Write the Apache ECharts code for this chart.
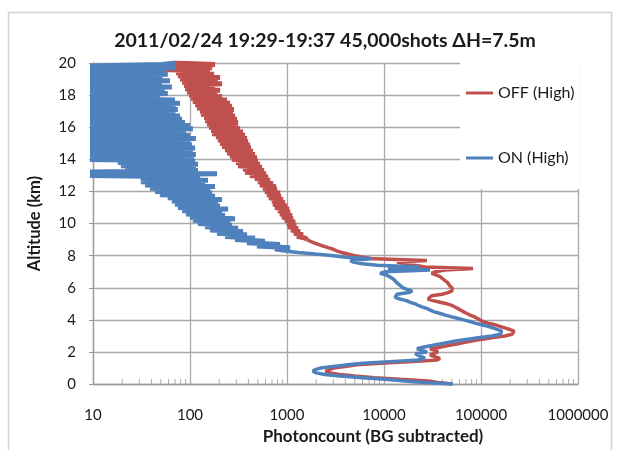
<!DOCTYPE html>
<html><head><meta charset="utf-8">
<script src="https://cdn.jsdelivr.net/npm/echarts@6/dist/echarts.min.js"></script>
<style>html,body{margin:0;padding:0;background:#fff}#c{width:624px;height:450px}</style>
</head><body><div id="c"></div>
<script>
// Altitude grid (km)
const altitudeKm = [
0.0,0.1,0.2,0.3,0.4,0.5,0.6,0.7,0.8,0.9,
1.0,1.1,1.2,1.3,1.4,1.5,1.6,1.7,1.8,1.9,
2.0,2.1,2.2,2.3,2.4,2.5,2.6,2.7,2.8,2.9,
3.0,3.1,3.2,3.3,3.4,3.5,3.6,3.7,3.8,3.9,
4.0,4.1,4.2,4.3,4.4,4.5,4.6,4.7,4.8,4.9,
5.0,5.1,5.2,5.3,5.4,5.5,5.6,5.7,5.8,5.9,
6.0,6.1,6.2,6.3,6.4,6.5,6.6,6.7,6.8,6.9,
7.0,7.1,7.2,7.3,7.4,7.5,7.6,7.7,7.8,7.9,
8.0,8.1,8.2,8.3,8.4,8.5,8.6,8.7,8.8,8.9,
9.0,9.1,9.2,9.3,9.4,9.5,9.6,9.7,9.8,9.9,
10.0,10.1,10.2,10.3,10.4,10.5,10.6,10.7,10.8,10.9,
11.0,11.1,11.2,11.3,11.4,11.5,11.6,11.7,11.8,11.9,
12.0,12.1,12.2,12.3,12.4,12.5,12.6,12.7,12.8,12.9,
13.0,13.1,13.2,13.3,13.4,13.5,13.6,13.7,13.8,13.9,
14.0,14.1,14.2,14.3,14.4,14.5,14.6,14.7,14.8,14.9,
15.0,15.1,15.2,15.3,15.4,15.5,15.6,15.7,15.8,15.9,
16.0,16.1,16.2,16.3,16.4,16.5,16.6,16.7,16.8,16.9,
17.0,17.1,17.2,17.3,17.4,17.5,17.6,17.7,17.8,17.9,
18.0,18.1,18.2,18.3,18.4,18.5,18.6,18.7,18.8,18.9,
19.0,19.1,19.2,19.3,19.4,19.5,19.6,19.7,19.8,19.9,
20.0];

// OFF (High) photon counts
const offHigh = [
50000,36000,28400,14600,8000,5000,3500,2780,2500,2580,
3000,3950,5250,9100,19900,35200,37800,37800,29800,31000,
36000,33600,29800,37800,45600,56600,68000,82800,104000,133000,
176000,209000,219000,219000,199000,176000,157000,139000,118000,104000,
97700,91000,85000,77000,71500,66500,62000,58000,54000,50300,
44600,37800,32000,28400,27700,31000,39600,45600,50300,51400,
50300,47900,46700,45600,43500,41500,39600,37800,34400,31000,
33600,42500,82800,26500,20800,16500,13600,27700,8000,6000,
5000,4250,3650,3250,3000,2650,2350,2100,1900,1730,
1610,1534,1268,1462,1180,1362,1100,1299,1024,1240,
1000,1210,953,1153,888,1126,847,1074,807,1050,
752,1000,717,953,700,909,652,867,622,847,
593,788,566,770,527,717,502,668,468,637,
415,608,369,580,352,552,313,527,298,502,
270,490,258,468,241,446,230,425,214,415,
204,396,194,387,185,369,169,352,165,328,
157,313,150,313,143,305,140,291,130,277,
127,284,118,270,113,258,107,241,102,214,
98,190,93,204,89,181,87,214,83,194,
79,204,75,177,72,161,51.5,169,70,181,
67];

// ON (High) photon counts
const onHigh = [
51400,26500,16500,10300,6000,3500,2450,2000,1850,1950,
2200,3000,4250,6100,11500,22400,26500,27700,22400,21000,
27700,24500,21900,25200,31000,37800,45600,56600,73500,97700,
130000,157000,164000,164000,157000,133000,118000,102000,87000,77000,
66000,57000,49000,43000,38000,33000,30000,28000,25000,22500,
21000,18500,17000,14500,13000,12400,13600,18000,19500,17300,
15700,15300,14300,13600,13000,12700,12100,11300,10500,9100,
10300,29800,11000,23500,8500,6000,4800,4500,7500,4050,
3000,1950,1300,900,750,1074,490,847,387,593,
291,468,230,387,190,352,161,313,143,270,
121,258,107,291,100,230,91,214,83,247,
75,204,70,194,65,214,59,181,49,169,
43.6,161,38.7,181,34.4,143,31.2,153,31,127,
6,190,8,121,21.4,115,19.4,121,18,113,
6,110,6,115,6,107,6,113,6,105,
6,100,6,115,6,100,6,91,6,107,
6,100,6,89,6,83,6,79,6,71,
6,75,6,71,6,79,6,70,6,49,
6,59,6,55,6,65,6,51.5,6,62,
6,52,6,59,6,55,6,70,6,51.5,
70];

const xTickLabels = ['10','100','1000','10000','100000','1000000'];
const xMinorTicks = [20,30,40,50,60,70,80,90,
  200,300,400,500,600,700,800,900,
  2000,3000,4000,5000,6000,7000,8000,9000,
  20000,30000,40000,50000,60000,70000,80000,90000,
  200000,300000,400000,500000,600000,700000,800000,900000];

// index where each profile turns into a noisy band
const offNoisyFrom = 90;
const onNoisyFrom = 84;

const FONT = 'Lato, "Open Sans", sans-serif';
const TXT = '#1a1a1a';
const GRID = '#A8A8A8';
const RED = '#C0504D';
const BLUE = '#4F81BD';

const pairs = (vals, from, to) => altitudeKm.slice(from, to).map((a, i) => [vals[from + i], a]);

function lineSeries(name, color, data, width, z) {
  return {
    name: name, type: 'line', data: data,
    symbol: 'none', clip: true, z: z,
    lineStyle: {color: color, width: width, join: 'bevel'},
    itemStyle: {color: color}
  };
}

const chart = echarts.init(document.getElementById('c'), null, {renderer: 'canvas'});
chart.setOption({
  animation: false,
  backgroundColor: '#fff',
  title: {
    text: '2011/02/24 19:29-19:37 45,000shots ΔH=7.5m',
    left: 320, top: 26, textAlign: 'center',
    textStyle: {fontFamily: FONT, fontWeight: 'bold', fontSize: 19.5, color: TXT}
  },
  graphic: [{
    type: 'rect', silent: true, z: -1,
    shape: {x: 8.5, y: 12.5, width: 603, height: 460},
    style: {fill: null, stroke: '#D2D2D2', lineWidth: 1.5}
  }],
  legend: {
    data: [
      {name: 'OFF (High)', icon: 'rect', itemStyle: {color: RED}},
      {name: 'ON (High)', icon: 'rect', itemStyle: {color: BLUE}}
    ],
    orient: 'vertical', left: 460, top: 62,
    padding: [23, 5, 23, 6], itemGap: 49,
    itemWidth: 27, itemHeight: 3,
    backgroundColor: '#fff',
    textStyle: {fontFamily: FONT, fontSize: 16, color: TXT}
  },
  grid: {left: 93, right: 46, top: 63, bottom: 61},
  xAxis: {
    type: 'log', logBase: 10, min: 10, max: 1000000,
    name: 'Photoncount (BG subtracted)', nameLocation: 'middle', nameGap: 40,
    nameTextStyle: {fontFamily: FONT, fontWeight: 'bold', fontSize: 17, color: TXT, padding: [0, 0, 0, 75]},
    axisLine: {show: true, onZero: false, lineStyle: {color: '#999', width: 1.3}},
    axisTick: {show: false},
    minorTick: {show: false},
    axisLabel: {
      margin: 24, fontFamily: FONT, fontSize: 15, color: TXT,
      formatter: v => { const s = String(Math.round(v)); return xTickLabels.indexOf(s) >= 0 ? s : ''; }
    },
    splitLine: {show: true, lineStyle: {color: GRID, width: 1.3}}
  },
  yAxis: {
    type: 'value', min: 0, max: 20, interval: 2,
    name: 'Altitude (km)', nameLocation: 'middle', nameGap: 50, nameRotate: 90,
    nameTextStyle: {fontFamily: FONT, fontWeight: 'bold', fontSize: 16.5, color: TXT},
    axisLine: {show: true, lineStyle: {color: '#999', width: 1.3}},
    axisTick: {show: true, length: 4, lineStyle: {color: '#999'}},
    axisLabel: {margin: 17, fontFamily: FONT, fontSize: 15, color: TXT},
    splitLine: {show: true, lineStyle: {color: GRID, width: 1.3}}
  },
  series: [
    {
      type: 'scatter', data: xMinorTicks.map(v => [v, 0]),
      symbol: 'rect', symbolSize: [1, 5], symbolOffset: [0, -2.5],
      itemStyle: {color: '#999'}, silent: true, clip: false, z: 1
    },
    lineSeries('OFF (High)', RED, pairs(offHigh, 0, offNoisyFrom + 1), 3.5, 3),
    lineSeries('OFF (High)', RED, pairs(offHigh, offNoisyFrom, altitudeKm.length), 5, 3),
    lineSeries('ON (High)', BLUE, pairs(onHigh, 0, onNoisyFrom + 1), 3.5, 4),
    lineSeries('ON (High)', BLUE, pairs(onHigh, onNoisyFrom, altitudeKm.length), 5, 4)
  ]
});
</script>
</body></html>
